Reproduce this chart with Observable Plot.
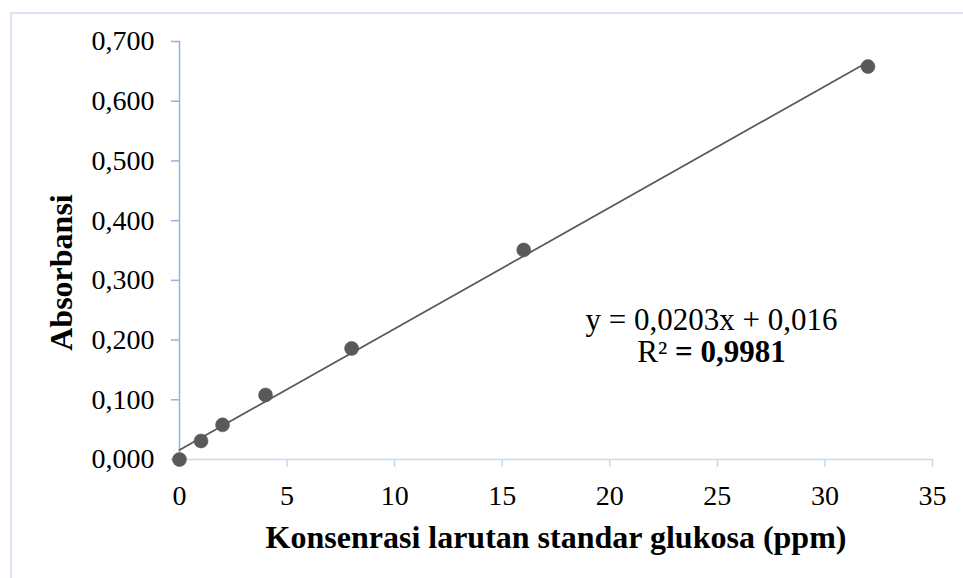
<!DOCTYPE html>
<html>
<head>
<meta charset="utf-8">
<script src="https://cdn.jsdelivr.net/npm/d3@7"></script>
<script src="https://cdn.jsdelivr.net/npm/@observablehq/plot@0.6"></script>
<style>
  html, body { margin: 0; padding: 0; background: #fff; }
  #chart { width: 963px; height: 578px; }
  #chart svg, #chart svg text { font-family: "Liberation Serif", "Times New Roman", serif !important; }
</style>
</head>
<body>
<div id="chart"></div>
<script>
// Glucose standard solutions: concentration (ppm) and measured absorbance
const concentration = [0, 1, 2, 4, 8, 16, 32];
const absorbance = [0.000, 0.031, 0.058, 0.108, 0.186, 0.351, 0.658];

// Axis ticks
const xTicks = [0, 5, 10, 15, 20, 25, 30, 35];
const yTicks = [0, 0.1, 0.2, 0.3, 0.4, 0.5, 0.6, 0.7];

// Linear trendline as reported: y = 0,0203x + 0,016 ; R² = 0,9981
const slope = 0.0203;
const intercept = 0.016;
const rSquared = 0.9981;

const xTitle = "Konsenrasi larutan standar glukosa (ppm)";
const yTitle = "Absorbansi";

// Indonesian number format: comma as decimal separator
const idLocale = d3.formatLocale({decimal: ",", thousands: ".", grouping: [3], currency: ["Rp", ""]});
const fmt3 = idLocale.format(".3f");
const fmtSlope = idLocale.format(".4f");
const fmtIntercept = idLocale.format(".3f");
const fmtR2 = idLocale.format(".4f");

const points = concentration.map((c, i) => ({c, a: absorbance[i]}));
const trend = d3.extent(concentration).map(c => ({c, a: slope * c + intercept}));

const serif = "Liberation Serif, Times New Roman, serif";
const yAxisColor = "#8eb4e3";
const xAxisColor = "#c6d9f0";
const markColor = "#595959";

const chart = Plot.plot({
  width: 963,
  height: 578,
  marginLeft: 179,
  marginRight: 31,
  marginTop: 41,
  marginBottom: 119,
  x: {domain: [0, 35]},
  y: {domain: [0, 0.7]},
  style: {fontFamily: serif, fontSize: "28px", color: "#000", background: "#fff"},
  marks: [
    Plot.ruleY([0], {stroke: xAxisColor, strokeWidth: 1.5}),
    Plot.ruleX([0], {stroke: yAxisColor, strokeWidth: 1.5}),
    Plot.axisX({ticks: xTicks, tickSize: 8, tickPadding: 18, stroke: xAxisColor, strokeWidth: 1.5,
                fill: "#000", fontSize: 28, fontVariant: "normal", label: null}),
    Plot.axisY({ticks: yTicks, tickFormat: fmt3, tickSize: 8, tickPadding: 17, stroke: yAxisColor,
                strokeWidth: 1.5, fill: "#000", fontSize: 28, fontVariant: "normal", label: null}),
    Plot.text([xTitle], {frameAnchor: "bottom", dy: 88, lineAnchor: "bottom", fontSize: 32,
                         fontWeight: "bold", fill: "#000"}),
    Plot.text([yTitle], {frameAnchor: "left", dx: -108, dy: 22, rotate: -90, lineAnchor: "bottom",
                         textAnchor: "middle", fontSize: 32, fontWeight: "bold", fill: "#000"}),
    Plot.line(trend, {x: "c", y: "a", stroke: markColor, strokeWidth: 1.75}),
    Plot.dot(points, {x: "c", y: "a", r: 7, fill: markColor, stroke: "#4d4d4d", strokeWidth: 0.5})
  ]
});

// Outer chart border
const svg = d3.select(chart);
svg.insert("rect", ":first-child")
  .attr("x", 11).attr("y", 13)
  .attr("width", 1200).attr("height", 800)
  .attr("fill", "none")
  .attr("stroke", "#dae5f3")
  .attr("stroke-width", 2);

// Trendline equation and R² label
const xs = chart.scale("x"), ys = chart.scale("y");
const eq = svg.append("text")
  .attr("font-size", 31)
  .attr("text-anchor", "middle")
  .attr("fill", "#000");
eq.append("tspan")
  .attr("x", xs.apply(24.75)).attr("y", ys.apply(0.216))
  .text(`y = ${fmtSlope(slope)}x + ${fmtIntercept(intercept)}`);
const r2 = eq.append("tspan")
  .attr("x", xs.apply(24.75)).attr("y", ys.apply(0.1625));
r2.append("tspan").text("R² ");
r2.append("tspan").attr("font-weight", "bold").text(`= ${fmtR2(rSquared)}`);

document.getElementById("chart").appendChild(chart);
</script>
</body>
</html>
